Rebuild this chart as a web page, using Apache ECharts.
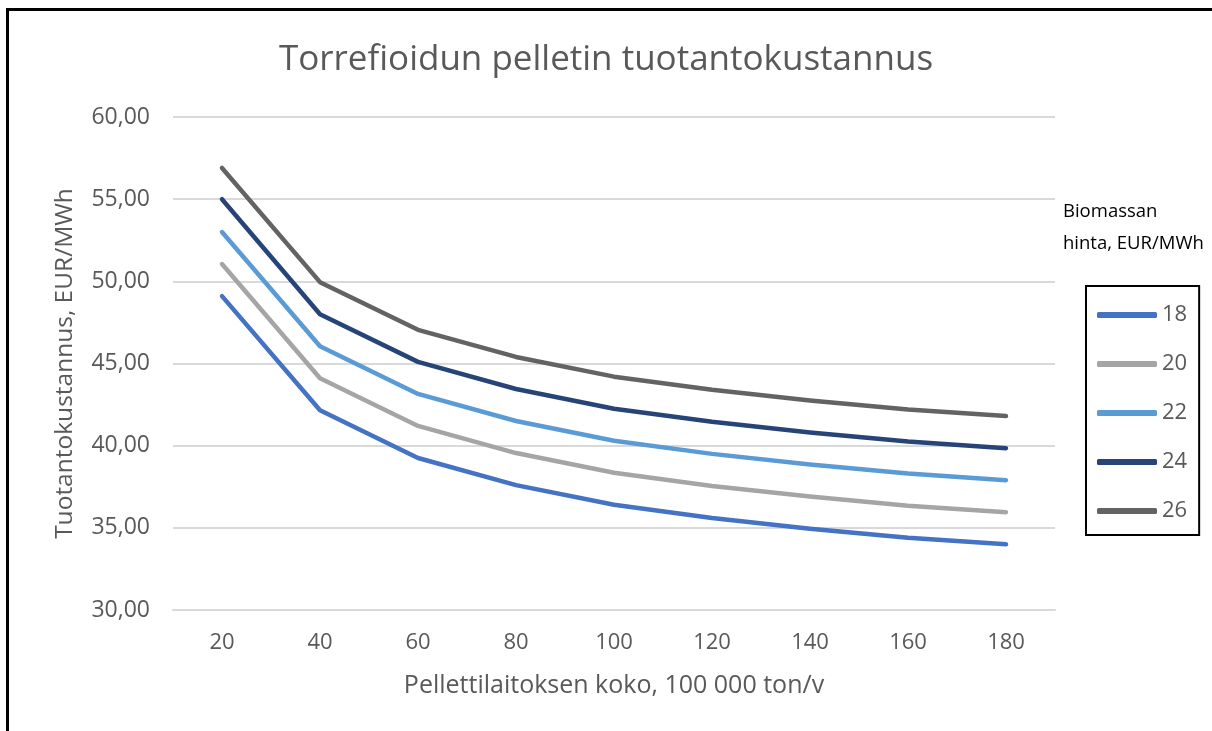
<!DOCTYPE html>
<html>
<head>
<meta charset="utf-8">
<script src="https://cdn.jsdelivr.net/npm/echarts@6/dist/echarts.min.js"></script>
<style>
html, body { margin: 0; padding: 0; background: #fff; }
#chart { width: 1212px; height: 731px; }
.frame { position: absolute; left: 6px; top: 8px; width: 1220px; height: 740px; border-left: 3px solid #000; border-top: 3px solid #000; pointer-events: none; }
</style>
</head>
<body>
<div id="chart"></div>
<div class="frame"></div>
<script>
const koko = ['20', '40', '60', '80', '100', '120', '140', '160', '180']
const hinta18 = [49.1, 42.15, 39.25, 37.6, 36.4, 35.6, 34.95, 34.4, 34.0]
const hinta20 = [51.05, 44.1, 41.2, 39.55, 38.35, 37.55, 36.9, 36.35, 35.95]
const hinta22 = [53.0, 46.05, 43.15, 41.5, 40.3, 39.5, 38.85, 38.3, 37.9]
const hinta24 = [55.0, 48.0, 45.1, 43.45, 42.25, 41.45, 40.8, 40.25, 39.85]
const hinta26 = [56.9, 49.95, 47.05, 45.4, 44.2, 43.4, 42.75, 42.2, 41.8]
const sarjat = [
  { name: '18', data: hinta18, color: '#4472C4' },
  { name: '20', data: hinta20, color: '#A5A5A5' },
  { name: '22', data: hinta22, color: '#5B9BD5' },
  { name: '24', data: hinta24, color: '#264478' },
  { name: '26', data: hinta26, color: '#636363' },
]
const font = 'Open Sans'
const grey = '#595959'

const chart = echarts.init(document.getElementById('chart'))
chart.setOption({
  animation: false,
  textStyle: { fontFamily: font },
  title: [
    {
      text: 'Torrefioidun pelletin tuotantokustannus',
      left: 'center',
      top: 38,
      textStyle: { fontFamily: font, fontSize: 35, fontWeight: 'normal', color: grey },
    },
    {
      text: 'Biomassan\nhinta, EUR/MWh',
      left: 1058,
      top: 191,
      textStyle: { fontFamily: font, fontSize: 18.5, fontWeight: 'normal', color: '#000', lineHeight: 32 },
    },
  ],
  legend: {
    orient: 'vertical',
    left: 1086,
    top: 286,
    borderColor: '#000',
    borderWidth: 2,
    padding: [18, 12, 13, 11],
    itemGap: 27,
    itemWidth: 60,
    itemHeight: 6,
    icon: 'roundRect',
    textStyle: { fontFamily: font, fontSize: 22, color: grey, lineHeight: 22 },
    data: sarjat.map((s) => s.name),
  },
  grid: { left: 173, right: 157, top: 117, bottom: 121 },
  xAxis: {
    type: 'category',
    data: koko,
    name: 'Pellettilaitoksen koko, 100 000 ton/v',
    nameLocation: 'middle',
    nameGap: 63,
    nameTextStyle: { fontFamily: font, fontSize: 25, color: grey },
    axisLine: { lineStyle: { color: '#d9d9d9', width: 2 } },
    axisTick: { show: false },
    axisLabel: { fontFamily: font, fontSize: 22, color: grey, margin: 22 },
  },
  yAxis: {
    type: 'value',
    min: 30,
    max: 60,
    interval: 5,
    name: 'Tuotantokustannus, EUR/MWh',
    nameLocation: 'middle',
    nameGap: 95,
    nameTextStyle: { fontFamily: font, fontSize: 24.5, color: grey },
    axisLine: { show: false },
    axisTick: { show: false },
    axisLabel: {
      fontFamily: font,
      fontSize: 23,
      color: grey,
      margin: 23,
      formatter: (v) => v.toFixed(2).replace('.', ','),
    },
    splitLine: { lineStyle: { color: '#d9d9d9', width: 2 } },
  },
  series: sarjat.map((s) => ({
    name: s.name,
    type: 'line',
    data: s.data,
    showSymbol: false,
    color: s.color,
    lineStyle: { width: 4.5, cap: 'round', join: 'round' },
  })),
})
</script>
</body>
</html>
